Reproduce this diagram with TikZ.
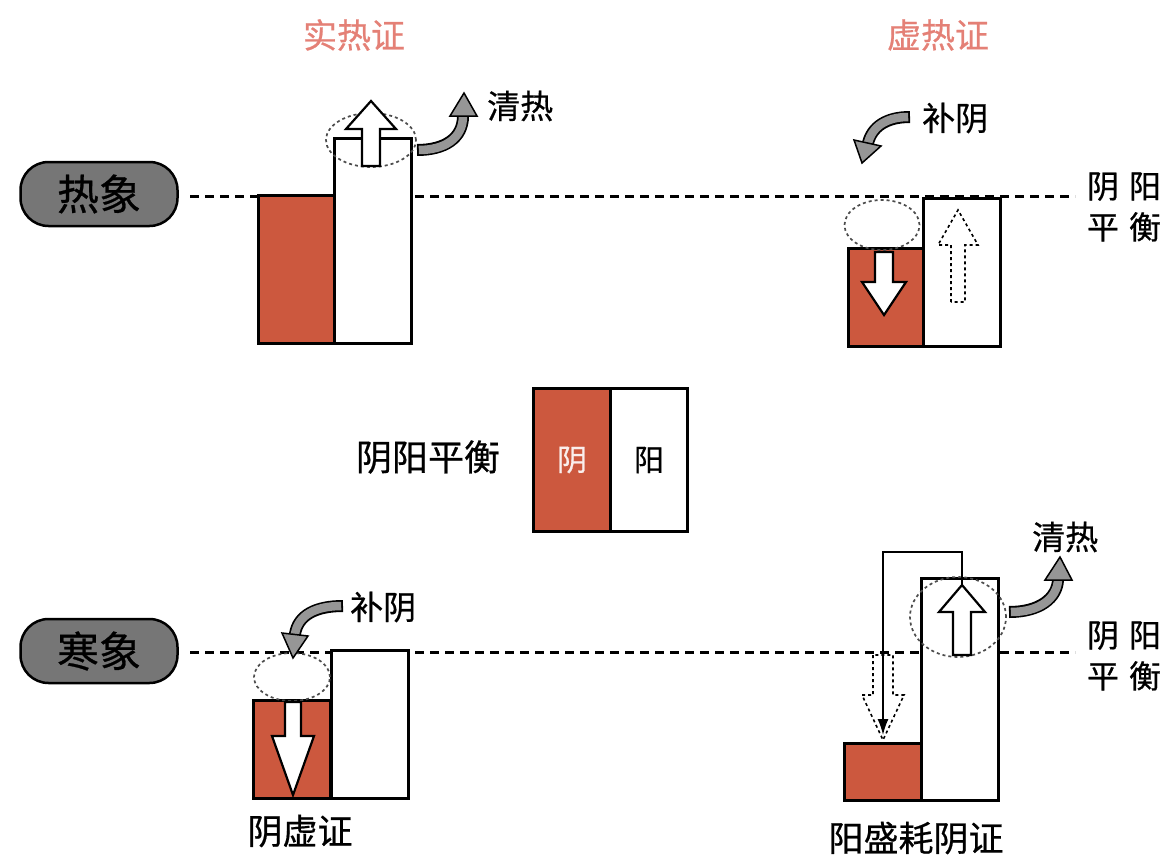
\documentclass[tikz,border=0pt]{standalone}
\usepackage{fontspec}
\setmainfont{Noto Sans CJK SC}[FakeBold=0.6]
\usetikzlibrary{shapes.geometric,arrows.meta}
\definecolor{yinred}{RGB}{204,88,62}
\definecolor{headpink}{RGB}{228,128,118}
\definecolor{pillgray}{RGB}{118,118,118}
\definecolor{flowgray}{RGB}{150,150,150}

% hollow block arrow: [style]{x}{tail y}{head base y}{tip y}{half stem}{half head}
\newcommand{\blockarrow}[7][]{%
 \draw[line width=2.2pt,fill=white,line join=miter,#1] ({#2-#6},#3) -- ({#2-#6},#4) -- ({#2-#7},#4) -- (#2,#5)
  -- ({#2+#7},#4) -- ({#2+#6},#4) -- ({#2+#6},#3) -- cycle;}
% grey bent arrow: {tail}{c1}{c2}{end of shaft}{head left}{tip}{head right}
\newcommand{\bentarrow}[7]{%
 \draw[line width=12pt] #1 .. controls #2 and #3 .. #4;
 \draw[line width=8.5pt,flowgray,shorten <=1.8pt] #1 .. controls #2 and #3 .. #4;
 \draw[line width=1.5pt,fill=flowgray,line join=miter] #5 -- #6 -- #7 -- cycle;}

\begin{document}
\begin{tikzpicture}[x=1pt,y=-1pt,
 tag/.style={inner sep=0pt,font=\fontsize{33}{40}\selectfont},
 heading/.style={inner sep=0pt,text=headpink,font=\fontsize{34}{40}\selectfont},
 pill/.style={draw,line width=2.5pt,fill=pillgray,rounded corners=28pt,minimum width=157pt,minimum height=64pt,font=\fontsize{42}{48}\selectfont},
 yinbar/.style={draw,line width=3pt,fill=yinred,inner sep=0pt,anchor=south west,minimum width=77pt},
 yangbar/.style={yinbar,fill=white},
 halo/.style={ellipse,draw=black!70,dashed,line width=1.7pt,inner sep=0pt},
 balance/.style={line width=3pt,dash pattern=on 9pt off 6pt}]
\useasboundingbox (0,0) rectangle (1161,859);

% titles
\node[heading] (shire) at (354,35) {实热证};
\node[heading] (xure) at (938,35) {虚热证};

% row labels and balance lines
\node[pill] (hot) at (99,194) {热象};
\node[pill] (cold) at (99,651) {寒象};
\node[tag,align=center,font=\fontsize{32}{41}\selectfont] (bal1) at (1124,207) {阴\hspace{10pt}阳\\平\hspace{10pt}衡};
\node[tag,align=center,font=\fontsize{32}{41}\selectfont] (bal2) at (1124,656) {阴\hspace{10pt}阳\\平\hspace{10pt}衡};
\draw[balance] (190,196) -- (1075,196);
\draw[balance] (190,652) -- (1075,652);

% 实热证
\node[yinbar,minimum height=148pt] (a1) at (257,345) {};
\node[yangbar,minimum height=205pt] (a2) at (333,345) {};
\node[halo,minimum width=90pt,minimum height=54pt] (ea) at (371,140) {};
\blockarrow{371}{166}{129}{101}{9}{25}
\bentarrow{(417,150)}{(445,150)}{(463,138)}{(463,116)}{(450,116)}{(464,93)}{(477,116)}
\node[tag,anchor=west] (qr1) at (487,106) {清热};

% 虚热证
\node[yinbar,minimum height=98pt] (b1) at (847,348) {};
\node[yangbar,minimum height=148pt] (b2) at (922,348) {};
\node[halo,minimum width=75pt,minimum height=50pt] (eb) at (882,225) {};
\blockarrow{884}{252}{282}{315}{9}{22}
\blockarrow[dashed,line width=1.6pt]{958}{302}{245}{210}{7}{20}
\bentarrow{(910,117)}{(886,117)}{(872,127)}{(868,143)}{(854,140)}{(862,163)}{(881,146)}
\node[tag,anchor=west] (by1) at (922,118) {补阴};

% 阴阳平衡
\node[yinbar,minimum height=143pt,tag,text=white!90!yinred,font=\fontsize{30}{36}\selectfont] (c1) at (532,533) {阴};
\node[yangbar,minimum height=143pt,tag,font=\fontsize{30}{36}\selectfont] (c2) at (609,533) {阳};
\node[tag,font=\fontsize{36}{42}\selectfont] (pz) at (428,457) {阴阳平衡};

% 阴虚证
\node[yinbar,minimum height=98pt] (d1) at (252,800) {};
\node[yangbar,minimum height=148pt] (d2) at (330,800) {};
\node[halo,minimum width=76pt,minimum height=48pt] (ed) at (292,677) {};
\blockarrow{293}{702}{736}{795}{8}{21}
\bentarrow{(343,606)}{(316,606)}{(298,615)}{(295,634)}{(282,633)}{(293,658)}{(308,636)}
\node[tag,anchor=west] (by2) at (350,607) {补阴};
\node[tag,font=\fontsize{35}{40}\selectfont] (yx) at (300,831) {阴虚证};

% 阳盛耗阴证
\node[yinbar,minimum height=57pt] (f1) at (843,802) {};
\node[yangbar,minimum height=222pt] (f2) at (920,802) {};
\node[halo,minimum width=96pt,minimum height=80pt] (ef) at (958,617) {};
\blockarrow{962}{655}{612}{585}{9}{23}
\blockarrow[dashed,line width=1.6pt]{883}{655}{695}{740}{10}{21}
\draw[line width=1.5pt,-{Latex[length=16pt,width=11pt]}] (962,586) -- (962,552) -- (883,552) -- (883,735);
\bentarrow{(1009,612)}{(1040,612)}{(1057,598)}{(1058,580)}{(1045,580)}{(1060,557)}{(1072,580)}
\node[tag,anchor=west] (qr2) at (1032,537) {清热};
\node[tag,font=\fontsize{35}{40}\selectfont] (ys) at (916,838) {阳盛耗阴证};
\end{tikzpicture}
\end{document}
